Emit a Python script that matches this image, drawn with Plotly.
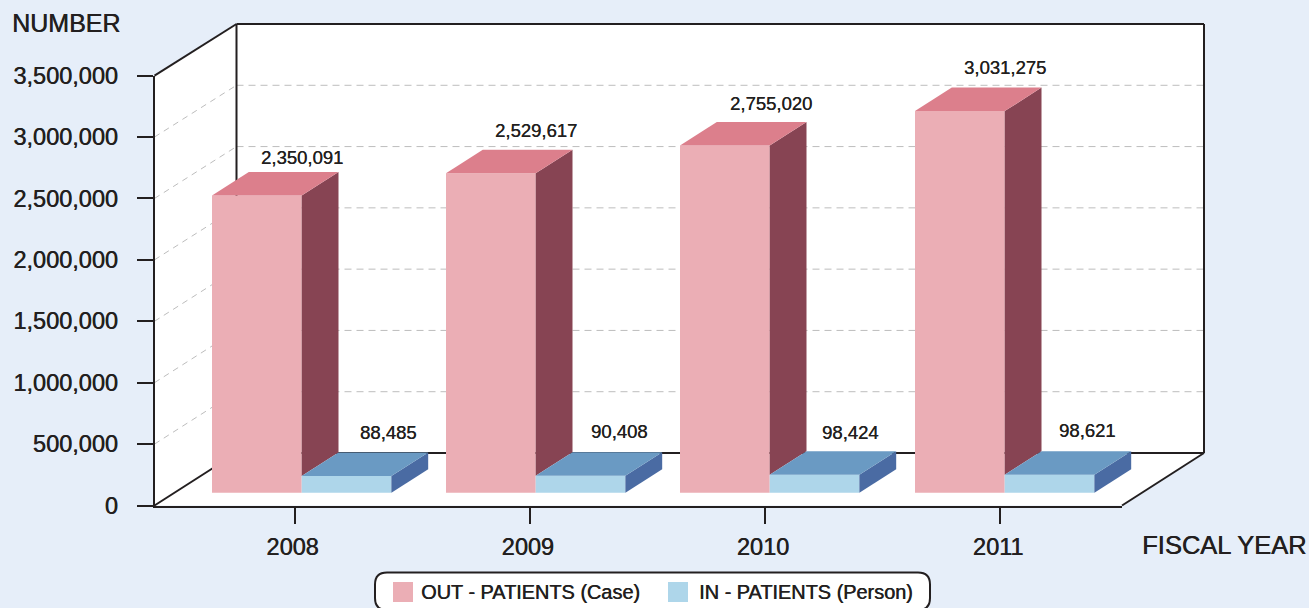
import plotly.graph_objects as go

# ---------- data ----------
years = [2008, 2009, 2010, 2011]
out_patients = [2350091, 2529617, 2755020, 3031275]
in_patients = [88485, 90408, 98424, 98621]
y_ticks = [0, 500000, 1000000, 1500000, 2000000, 2500000, 3000000, 3500000]
y_tick_labels = ["0", "500,000", "1,000,000", "1,500,000", "2,000,000", "2,500,000", "3,000,000", "3,500,000"]
out_name = "OUT - PATIENTS (Case)"
in_name = "IN - PATIENTS (Person)"

# ---------- layout constants (pixels) ----------
W, H = 1309, 608
FONT = "Liberation Sans"
INK = "#231F20"
BG = "#E6EEF9"
PINK, PINK_TOP, PINK_SIDE = "#EBAEB5", "#DC7F8C", "#874453"
BLUE, BLUE_TOP, BLUE_SIDE = "#AED6EA", "#6A9AC3", "#4A6BA3"
GRID = "#BDBDBD"
HEAVY = "0.5px 0 0 #231F20"

FX0, FX1 = 154.5, 1122      # front floor edge
FY0, FY1 = 505.5, 75.6      # front plane 0 .. 3.5M
BX0, BX1 = 236.5, 1204      # back wall
BY0, BY1 = 453, 24
TICK_X0, TICK_STEP = 294.5, 235.2

BAR_K = 124 / 1e6           # px per unit of value on the bar axis
BAR_ZERO = 487              # px of value 0 on the bar axis
BAR_FLOOR = 492.7           # px of bar foot
lift = (BAR_FLOOR - BAR_ZERO) / BAR_K
depth_x = 36.8 / TICK_STEP
depth_y = 23.5 / BAR_K
BAR_W = 89.7 / TICK_STEP
out_off = [o / TICK_STEP for o in (-82.5, -83.7, -84.9, -85.1)]
in_off = [o + BAR_W for o in out_off]

out_dx = [7.5, 6, 5.6, 4.5]
out_dy = [38, 43.3, 41.4, 44]
in_dx = [93.5, 89.3, 86, 87]
in_dy = [44, 43.8, 42.8, 43.8]


def px(x):
    return x / W


def py(y):
    return 1 - y / H


def poly(points, fill):
    path = "M" + " L".join(f"{px(x):.5f},{py(y):.5f}" for x, y in points) + " Z"
    return dict(type="path", path=path, xref="paper", yref="paper", layer="below",
                fillcolor=fill, line=dict(color=fill, width=0))


def seg(x0, y0, x1, y1, color=INK, width=2, dash="solid"):
    return dict(type="line", xref="paper", yref="paper", layer="below",
                x0=px(x0), y0=py(y0), x1=px(x1), y1=py(y1),
                line=dict(color=color, width=width, dash=dash))


shapes = [
    poly([(FX0, FY1), (BX0, BY1), (BX1, BY1), (BX1, BY0), (FX1, FY0), (FX0, FY0)], "#FFFFFF"),
]
for t in y_ticks[1:-1]:
    back_y = BY0 - (BY0 - BY1) * t / y_ticks[-1]
    front_y = FY0 - (FY0 - FY1) * t / y_ticks[-1]
    shapes.append(seg(BX0, back_y, BX1, back_y, GRID, 1, "7px,5px"))
    shapes.append(seg(FX0, front_y, BX0, back_y, GRID, 1, "6px,5px"))
shapes += [
    seg(FX0, FY1, BX0, BY1),
    seg(BX0, BY1, BX1, BY1),
    seg(BX1, BY1, BX1, BY0),
    seg(BX0, BY1, BX0, BY0),
    seg(BX0, BY0, BX1, BY0),
    seg(FX0, FY0, BX0, BY0),
    seg(BX1, BY0, FX1, FY0),
]

# rounded legend box and swatches
LX0, LX1, LY0, LY1, R = 375, 930, 572.5, 610, 12
shapes.append(dict(
    type="path", xref="paper", yref="paper", layer="above", fillcolor="#FFFFFF",
    line=dict(color=INK, width=2),
    path=(f"M{px(LX0+R):.5f},{py(LY0):.5f} L{px(LX1-R):.5f},{py(LY0):.5f} "
          f"Q{px(LX1):.5f},{py(LY0):.5f} {px(LX1):.5f},{py(LY0+R):.5f} "
          f"L{px(LX1):.5f},{py(LY1-R):.5f} Q{px(LX1):.5f},{py(LY1):.5f} {px(LX1-R):.5f},{py(LY1):.5f} "
          f"L{px(LX0+R):.5f},{py(LY1):.5f} Q{px(LX0):.5f},{py(LY1):.5f} {px(LX0):.5f},{py(LY1-R):.5f} "
          f"L{px(LX0):.5f},{py(LY0+R):.5f} Q{px(LX0):.5f},{py(LY0):.5f} {px(LX0+R):.5f},{py(LY0):.5f} Z")))
for x0, c in ((393, PINK), (668, BLUE)):
    shapes.append(dict(type="rect", xref="paper", yref="paper", layer="above",
                       x0=px(x0), x1=px(x0 + 20), y0=py(602), y1=py(582),
                       fillcolor=c, line=dict(width=0)))

fig = go.Figure()

# hidden trace that keeps the front-plane value axis alive
fig.add_trace(go.Scatter(x=[years[0]] * len(y_ticks), y=y_ticks, mode="none", xaxis="x", yaxis="y",
                         showlegend=False, hoverinfo="skip"))

for name, vals, off, col in ((out_name, out_patients, out_off, PINK), (in_name, in_patients, in_off, BLUE)):
    fig.add_trace(go.Bar(x=years, y=[v + lift for v in vals], base=-lift, width=BAR_W, offset=off,
                         marker=dict(color=col, line=dict(width=0)), name=name, xaxis="x2", yaxis="y2",
                         customdata=vals, hovertemplate="%{x}: %{customdata:,d}<extra>" + name + "</extra>",
                         showlegend=False))


def faces(vals, floors, offs, top_col, side_col, name):
    for yr, v, fl, off in zip(years, vals, floors, offs):
        l, r = yr + off, yr + off + BAR_W
        fig.add_trace(go.Scatter(
            x=[r, r + depth_x, r + depth_x, r, r], y=[v, v + depth_y, fl + depth_y, fl, v],
            mode="lines", fill="toself", fillcolor=side_col, line=dict(width=0), xaxis="x2", yaxis="y2",
            showlegend=False, hoverinfo="skip", name=name))
        fig.add_trace(go.Scatter(
            x=[l, l + depth_x, r + depth_x, r, l], y=[v, v + depth_y, v + depth_y, v, v],
            mode="lines", fill="toself", fillcolor=top_col, line=dict(width=0), xaxis="x2", yaxis="y2",
            showlegend=False, hoverinfo="skip", name=name))


faces(out_patients, in_patients, out_off, PINK_TOP, PINK_SIDE, out_name)
faces(in_patients, [-lift] * len(years), in_off, BLUE_TOP, BLUE_SIDE, in_name)

annotations = []
for yr, v, dx, dy in list(zip(years, out_patients, out_dx, out_dy)) + list(zip(years, in_patients, in_dx, in_dy)):
    annotations.append(dict(x=yr, y=v, xref="x2", yref="y2", text=f"{v:,d}", showarrow=False,
                            xanchor="center", yanchor="middle", xshift=dx, yshift=dy,
                            font=dict(family=FONT, size=18.5, color=INK, shadow="0.3px 0 0 #231F20")))


def label(x, y, text, size, anchor="left"):
    annotations.append(dict(x=px(x), y=py(y), xref="paper", yref="paper", text=text, showarrow=False,
                            xanchor=anchor, yanchor="middle", borderpad=0,
                            font=dict(family=FONT, size=size, color=INK, shadow=HEAVY)))


label(66, 23, "NUMBER", 25, "center")
label(1223.5, 545, "FISCAL YEAR", 25.5, "center")
label(420, 592, out_name, 19.9)
label(698, 592, in_name, 19.9)

x_lo = years[0] - (TICK_X0 - FX0) / TICK_STEP
x_hi = years[0] + (FX1 - TICK_X0) / TICK_STEP
x_hi_wide = years[0] + (BX1 - TICK_X0) / TICK_STEP
y_dom = [1 - FY0 / H, 1 - FY1 / H]
line_style = dict(showline=True, linecolor=INK, linewidth=2, ticks="outside", ticklen=16, tickwidth=2, tickcolor=INK,
                  showgrid=False, zeroline=False, automargin=False,
                  tickfont=dict(family=FONT, size=23.5, color=INK, shadow=HEAVY))

fig.update_layout(
    template="none",
    width=W, height=H, margin=dict(l=0, r=0, t=0, b=0, pad=0), autosize=False,
    paper_bgcolor=BG, plot_bgcolor="rgba(0,0,0,0)", showlegend=False, barmode="overlay",
    shapes=shapes, annotations=annotations,
    xaxis=dict(domain=[FX0 / W, FX1 / W], range=[x_lo, x_hi], tickmode="array", tickvals=years,
               ticktext=[str(y) for y in years], ticklabelstandoff=3, ticklabelshift=-2, anchor="y", **line_style),
    yaxis=dict(domain=y_dom, range=[y_ticks[0], y_ticks[-1]], tickmode="array", tickvals=y_ticks,
               ticktext=y_tick_labels, ticklabelstandoff=14, anchor="x", **line_style),
    xaxis2=dict(domain=[FX0 / W, BX1 / W], range=[x_lo, x_hi_wide], visible=False, automargin=False, anchor="y2"),
    yaxis2=dict(domain=y_dom, visible=False, automargin=False, anchor="x2",
                range=[(BAR_ZERO - FY0) / BAR_K, (BAR_ZERO - FY1) / BAR_K]),
)

fig.write_html("out.html", config={"displayModeBar": False},
               post_script="document.body.style.margin='0';document.body.style.overflow='hidden';"
                           "document.body.style.background='" + BG + "';")
